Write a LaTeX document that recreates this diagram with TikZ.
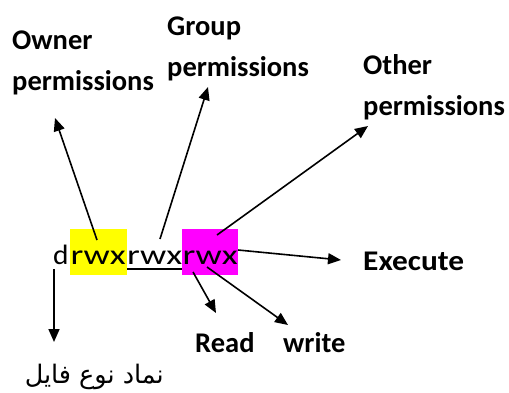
\documentclass[tikz,border=0pt]{standalone}
\usepackage{fontspec}
\setmainfont{Carlito}
\newfontfamily\arabicfont[Script=Arabic]{DejaVu Sans}
\TeXXeTstate=1
\usetikzlibrary{arrows.meta}
\definecolor{hlyellow}{RGB}{255,255,0}
\definecolor{hlmagenta}{RGB}{255,0,255}
\tikzset{
  lbl/.style={font=\fontsize{28.5}{41}\selectfont\bfseries, inner sep=0pt, align=left, anchor=base west},
  perm/.style={font=\fontsize{28}{30}\selectfont, inner sep=0pt, anchor=base west},
  arr/.style={line width=1.6pt, -{Triangle[length=13pt,width=11pt]}},
}
\begin{document}
\begin{tikzpicture}[x=1pt,y=-1pt]
\useasboundingbox (0,0) rectangle (509,392);
% highlight boxes
\fill[hlyellow] (70,229) rectangle (127,275);
\fill[hlmagenta] (182,229) rectangle (238,275);
% permission string
\node[perm] (d) at (53,264.5) {\scalebox{1.05}[1]{d}};
\node[perm] (own) at (70.5,264.5) {\scalebox{1.31}[1]{rwx}};
\node[perm] (grp) at (127,264.5) {\scalebox{1.31}[1]{rwx}};
\node[perm] (oth) at (182.5,264.5) {\scalebox{1.31}[1]{rwx}};
\draw[line width=1.6pt] (127,269) -- (182,269);
% labels
\node[lbl] (owner) at (12,90.7) {Owner\\permissions};
\node[lbl] (group) at (167,76.7) {Group\\permissions};
\node[lbl] (other) at (363,115) {Other\\permissions};
\node[lbl] (exec) at (363,270) {\scalebox{1.1}[1]{Execute}};
\node[lbl] (read) at (195,352.3) {Read};
\node[lbl] (write) at (283,352.3) {write};
\node[font=\arabicfont\fontsize{25.5}{28}\selectfont, inner sep=0pt, anchor=base east] (ftype) at (164,383) {\beginR نماد نوع فایل\endR};
% arrow end points
\coordinate (ownS) at (97,240);
\coordinate (ownT) at (55,118);
\coordinate (grpS) at (160,239);
\coordinate (grpT) at (208,87);
\coordinate (othS) at (217,235);
\coordinate (othT) at (368,126);
\coordinate (exS) at (238,250);
\coordinate (exT) at (341,260);
\coordinate (rdS) at (193,272);
\coordinate (rdT) at (216,313);
\coordinate (wrS) at (207,267);
\coordinate (wrT) at (288,325);
\coordinate (dS) at (54,269);
\coordinate (dT) at (54,342);
\draw[arr] (ownS) -- (ownT);
\draw[arr] (grpS) -- (grpT);
\draw[arr] (othS) -- (othT);
\draw[arr] (exS) -- (exT);
\draw[arr] (rdS) -- (rdT);
\draw[arr] (wrS) -- (wrT);
\draw[arr] (dS) -- (dT);
\end{tikzpicture}
\end{document}
